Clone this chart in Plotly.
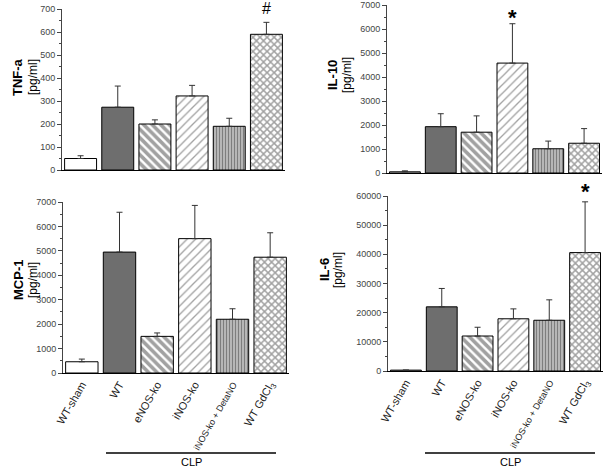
import plotly.graph_objects as go

groups = ["WT-sham", "WT", "eNOS-ko", "iNOS-ko", "iNOS-ko + DetaNO", "WT GdCl<sub>3</sub>"]
group_ticks = ["WT-sham", "WT", "eNOS-ko", "iNOS-ko",
               "<span style='font-size:9px'>iNOS-ko + DetaNO</span>", "WT GdCl<sub>3</sub>"]

tnf_vals = [50, 273, 200, 322, 190, 590]
tnf_err = [12, 92, 18, 46, 35, 52]
il10_vals = [50, 1930, 1700, 4580, 1010, 1240]
il10_err = [40, 540, 680, 1640, 320, 610]
mcp_vals = [460, 4950, 1500, 5500, 2200, 4740]
mcp_err = [110, 1630, 140, 1360, 430, 1000]
il6_vals = [300, 22000, 12000, 17900, 17400, 40600]
il6_err = [0, 6300, 3000, 3400, 7000, 17400]

W, H = 605, 470
def px(x): return min(1.0, max(0.0, x / W))
def py(y): return min(1.0, max(0.0, 1 - y / H))

shapes_pat = ["", "", "\\", "/", "|", "x"]
bg = ["white", "#6e6e6e", "white", "white", "#b6b6b6", "white"]
fg = ["white", "#6e6e6e", "black", "black", "#959595", "black"]
psize = [6, 6, 6, 6, 3, 5]
psol = [0.3, 0.3, 0.6, 0.22, 0.35, 0.5]

fig = go.Figure()
panels = [
    (tnf_vals, tnf_err, "x", "y"),
    (il10_vals, il10_err, "x2", "y2"),
    (mcp_vals, mcp_err, "x3", "y3"),
    (il6_vals, il6_err, "x4", "y4"),
]
for vals, err, xa, ya in panels:
    fig.add_trace(go.Bar(
        x=groups, y=vals, xaxis=xa, yaxis=ya,
        marker=dict(color=bg, line=dict(color="black", width=1),
                    pattern=dict(shape=shapes_pat, fgcolor=fg,
                                 size=psize, solidity=psol, fillmode="overlay")),
        error_y=dict(type="data", array=err, arrayminus=[0]*6, symmetric=False,
                     color="#333333", thickness=1, width=3),
        showlegend=False,
    ))

tickfont = dict(family="Arial", size=9, color="#444444")
def xax(dom, anchor, labels):
    return dict(domain=dom, anchor=anchor, type="category", range=[-0.5, 5.5],
                tickmode="array", tickvals=groups, ticktext=group_ticks,
                showline=True, linecolor="black", linewidth=1, ticks="",
                showticklabels=labels, tickangle=-60, automargin=False,
                tickfont=dict(family="Arial", size=11, color="#222"),
                showgrid=False, zeroline=False, fixedrange=True)
def yax(dom, anchor, rng, dtick):
    return dict(domain=dom, anchor=anchor, range=rng, dtick=dtick, tickformat="d",
                showline=True, linecolor="#444", linewidth=1, ticks="outside",
                ticklen=4, tickcolor="#444", tickfont=tickfont, automargin=False,
                ticklabeloverflow="allow",
                minor=dict(ticks="outside", ticklen=2, tickcolor="#444", dtick=dtick / 2),
                showgrid=False, zeroline=False)

fig.update_layout(
    width=W, height=H, margin=dict(l=0, r=0, t=0, b=0, autoexpand=False),
    paper_bgcolor="white", plot_bgcolor="white", bargap=0.14,
    xaxis=xax([px(62), px(285)], "y", False),
    yaxis=yax([py(170), py(9)], "x", [0, 700], 100),
    xaxis2=xax([px(387), px(602)], "y2", False),
    yaxis2=yax([py(173), py(5)], "x2", [0, 7000], 1000),
    xaxis3=xax([px(63), px(289)], "y3", True),
    yaxis3=yax([py(373), py(202)], "x3", [0, 7000], 1000),
    xaxis4=xax([px(388), px(603)], "y4", True),
    yaxis4=yax([py(371), py(196)], "x4", [0, 60000], 10000),
)

ann = []
def ytitle(name, x1, x2, yc):
    ann.append(dict(text="<b>%s</b>" % name, x=px(x1), y=py(yc), xref="paper", yref="paper",
                    xanchor="center", yanchor="middle",
                    textangle=-90, showarrow=False, font=dict(family="Arial", size=13, color="black")))
    ann.append(dict(text="[pg/ml]", x=px(x2), y=py(yc), xref="paper", yref="paper",
                    xanchor="center", yanchor="middle",
                    textangle=-90, showarrow=False, font=dict(family="Arial", size=12, color="black")))
ytitle("TNF-a", 18, 33, 77)
ytitle("IL-10", 333, 347, 75)
ytitle("MCP-1", 18, 33, 280)
ytitle("IL-6", 324, 338, 270)

ann.append(dict(text="#", x=5, y=py(8), xref="x", yref="paper", showarrow=False,
                yanchor="middle", font=dict(family="Arial", size=16, color="black")))
ann.append(dict(text="<b>*</b>", x=3, y=py(17), xref="x2", yref="paper", showarrow=False,
                yanchor="middle", font=dict(family="Arial", size=22, color="black")))
ann.append(dict(text="<b>*</b>", x=5, y=py(192), xref="x4", yref="paper", showarrow=False,
                yanchor="middle", font=dict(family="Arial", size=22, color="black")))
for xc in (191, 510):
    ann.append(dict(text="CLP", x=px(xc), y=py(462), xref="paper", yref="paper", showarrow=False,
                    xanchor="center", yanchor="middle",
                    font=dict(family="Arial", size=11, color="black")))
fig.update_layout(annotations=ann)

shp = []
for x0, x1 in ((106, 276), (425, 595)):
    shp.append(dict(type="line", xref="paper", yref="paper", x0=px(x0), x1=px(x1),
                    y0=py(453), y1=py(453), line=dict(color="black", width=1.5)))
fig.update_layout(shapes=shp)

fig.write_html("out.html", config={"displayModeBar": False},
               post_script="document.body.style.margin='0px';")
